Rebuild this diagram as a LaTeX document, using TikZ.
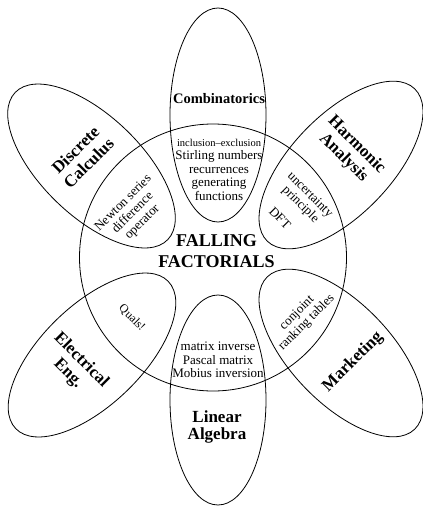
\documentclass[tikz,border=0pt]{standalone}
\usepackage{fontspec}
\setmainfont{Liberation Serif}
\tikzset{
  blob/.style={draw, line width=0.8pt},
  ttl/.style={font=\bfseries\fontsize{17}{18.5}\selectfont, align=center, inner sep=0pt},
  inr/.style={font=\fontsize{13}{13.5}\selectfont, align=center, inner sep=0pt},
}
\begin{document}
\begin{tikzpicture}[x=1pt,y=-1pt]
\useasboundingbox (0,0) rectangle (423,509);
% centre circle
\coordinate (cc) at (213,257.5);
\draw[blob] (cc) circle[radius=133.5];
% ellipses
\coordinate (eT) at (218,115);
\coordinate (eB) at (218,400);
\coordinate (eDC) at (91.5,166);
\coordinate (eHA) at (341,165);
\coordinate (eEE) at (92,355);
\coordinate (eMK) at (341,353);
\draw[blob] (eT) ellipse[x radius=48, y radius=107];
\draw[blob] (eB) ellipse[x radius=48, y radius=105];
\draw[blob, rotate around={-44:(eDC)}] (eDC) ellipse[x radius=106, y radius=50];
\draw[blob, rotate around={46:(eHA)}] (eHA) ellipse[x radius=106, y radius=50];
\draw[blob, rotate around={44:(eEE)}] (eEE) ellipse[x radius=106, y radius=50];
\draw[blob, rotate around={-46:(eMK)}] (eMK) ellipse[x radius=106, y radius=50];
% titles
\node[font=\bfseries\fontsize{18}{21}\selectfont, align=center, inner sep=0pt] (ff) at (216.5,251.5) {FALLING\\FACTORIALS};
\node[font=\bfseries\fontsize{14.5}{16}\selectfont, inner sep=0pt] (comb) at (219,99) {Combinatorics};
\node[ttl, font=\bfseries\fontsize{17}{17}\selectfont] (linalg) at (217,427) {Linear\\Algebra};
\node[ttl, rotate=45] (dc) at (82,156.5) {Discrete\\Calculus};
\node[ttl, rotate=-45] (ha) at (350,151.5) {Harmonic\\Analysis};
\node[ttl, rotate=-45] (ee) at (74.5,367) {Electrical\\Eng.};
\node[ttl, rotate=45] (mk) at (353,362) {Marketing};
% intersections
\node[inr] (combin) at (219,169.5) {{\fontsize{10.5}{12}\selectfont inclusion\textendash exclusion}\\Stirling numbers\\recurrences\\generating\\functions};
\node[inr] (linin) at (218,360) {matrix inverse\\Pascal matrix\\Mobius inversion};
\node[inr, rotate=45] (dcin) at (133,213) {Newton series\\difference\\operator};
\node[inr, rotate=-45] (hain) at (305,200) {uncertainty\\principle};
\node[inr, rotate=-45] (dft) at (280,218) {DFT};
\node[inr, font=\fontsize{12}{13}\selectfont, rotate=-45] (quals) at (132,318) {Quals!};
\node[inr, rotate=45] (mkin) at (302,318) {conjoint\\ranking tables};
\end{tikzpicture}
\end{document}
